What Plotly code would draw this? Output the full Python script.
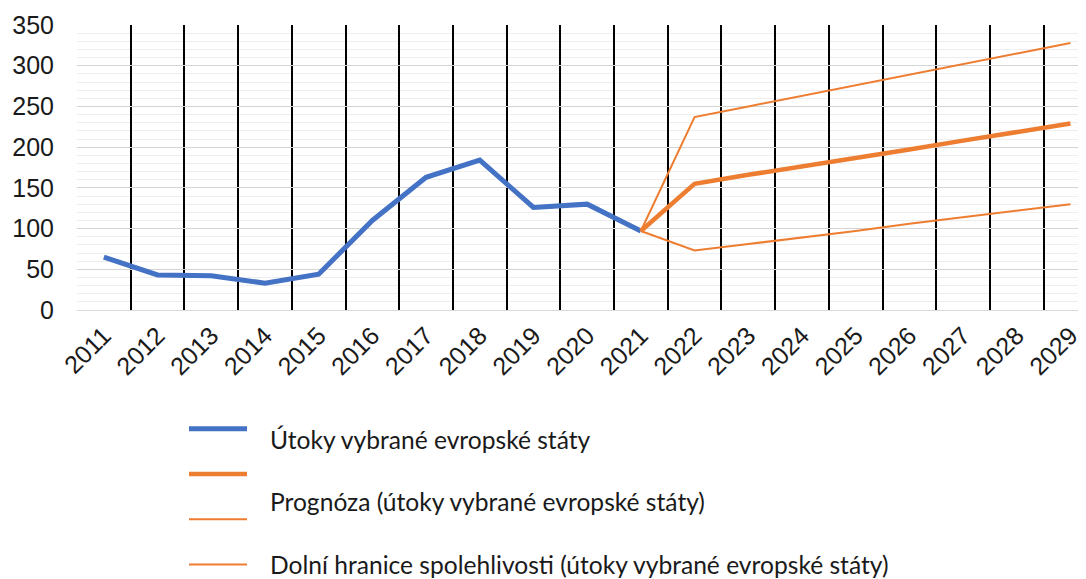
import plotly.graph_objects as go

# data
years = [str(y) for y in range(2011, 2030)]

hist_years = years[:11]                     # 2011..2021
hist_attacks = [65, 43, 42, 33, 44, 110, 163, 184, 126, 130, 97]

fc_years = years[10:]                       # 2021..2029
fc_value = [97, 155, 166, 176, 187, 197, 208, 218, 229]
fc_lower = [97, 73, 81, 89, 97, 106, 114, 122, 130]
fc_upper = [97, 237, 250, 263, 276, 289, 302, 315, 328]

label_hist = "Útoky vybrané evropské státy"
label_fc = "Prognóza (útoky vybrané evropské státy)"
label_low = "Dolní hranice spolehlivosti (útoky vybrané evropské státy)"
label_up = "Horní hranice spolehlivosti (útoky vybrané evropské státy)"

BLUE = "#4472C4"
ORANGE = "#ED7D31"

# the page body has an 8px margin, so the figure is a bit smaller than the window
OFF = 8
W, H = 1086 - OFF, 579 - OFF
L, T = 77 - OFF, 25 - OFF
B = H - (310 - OFF)
plot_w = W - L
plot_h = H - T - B


def px_x(x):
    # x in window pixels -> paper coords
    return (x - OFF - L) / plot_w


def px_y(y):
    return (H - B - (y - OFF)) / plot_h


fig = go.Figure()

# legend shows only the symbols, the labels sit as annotations (offset as in the reference)
for x, y, w, c, lab in [
    (hist_years, hist_attacks, 5, BLUE, label_hist),
    (fc_years, fc_value, 4.5, ORANGE, label_fc),
    (fc_years, fc_lower, 2, ORANGE, label_low),
    (fc_years, fc_upper, 2, ORANGE, label_up),
]:
    fig.add_trace(go.Scatter(
        x=x, y=y,
        mode="lines",
        line=dict(color=c, width=w),
        name=" ",
        hovertemplate=lab + "<br>%{x}: %{y}<extra></extra>",
    ))

# category width in pixels is ~53.7, so the plot is cut on the right
n_visible = plot_w / 53.7
fig.update_xaxes(
    type="category",
    categoryorder="array",
    categoryarray=years,
    range=[-0.5, -0.5 + n_visible],
    automargin=False,
    tickson="boundaries",
    showgrid=True,
    gridcolor="black",
    gridwidth=2,
    ticks="",
    tickangle=-45,
    showline=True,
    linecolor="#d9d9d9",
    linewidth=1,
    tickfont=dict(family="Liberation Sans", size=25, color="#1a1a1a"),
)
fig.update_yaxes(
    range=[0, 350],
    dtick=50,
    automargin=False,
    showgrid=True,
    gridcolor="#d4d4d4",
    gridwidth=1,
    zeroline=False,
    minor=dict(dtick=10, showgrid=True, gridcolor="#eeeeee", gridwidth=1),
    ticklabelstandoff=22,
    tickfont=dict(family="Liberation Sans", size=25, color="#1a1a1a"),
)

text_rows = [(label_hist, 439), (label_fc, 502), (label_low, 564)]
for txt, ypx in text_rows:
    fig.add_annotation(
        x=px_x(268), y=px_y(ypx), xref="paper", yref="paper",
        xanchor="left", yanchor="middle", showarrow=False,
        text=txt,
        font=dict(family="Lato", size=24.6, color="#1a1a1a"),
    )

fig.update_layout(
    width=W, height=H,
    margin=dict(l=L, r=0, t=T, b=B, pad=0, autoexpand=False),
    paper_bgcolor="white",
    plot_bgcolor="white",
    showlegend=True,
    legend=dict(
        x=px_x(184), y=px_y(401), xanchor="left", yanchor="top",
        font=dict(size=32.5),
        itemwidth=58,
        bgcolor="rgba(0,0,0,0)",
    ),
)

fig.write_html("out.html")
